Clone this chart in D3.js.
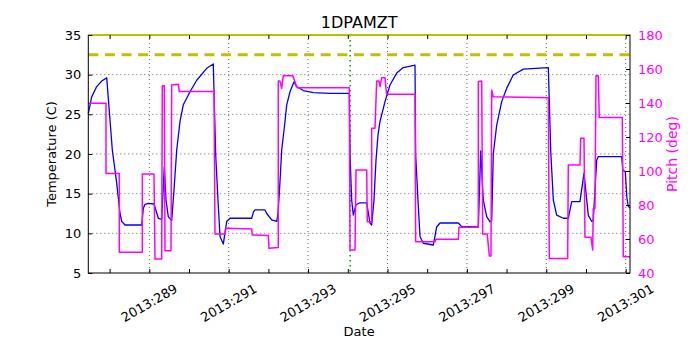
<!DOCTYPE html>
<html><head><meta charset="utf-8">
<script src="https://cdn.jsdelivr.net/npm/d3@7"></script>
<style>body{margin:0;background:#fff}text{font-family:"DejaVu Sans",sans-serif}</style>
</head><body><svg id="c" width="700" height="350"></svg>
<script>
// ---- data (day of year 2013) ----
const tempDays = [287.463,287.549,287.675,287.801,287.927,288.068,288.179,288.262,288.305,288.388,288.808,288.849,288.892,288.975,289.118,289.227,289.312,289.378,289.421,289.478,289.564,289.622,289.690,289.773,289.856,290.025,290.194,290.446,290.612,290.672,290.730,290.781,290.864,290.950,291.033,291.579,291.625,291.662,291.914,291.957,292.083,292.209,292.242,292.292,292.335,292.418,292.461,292.544,292.627,292.645,292.713,292.879,293.131,293.552,294.038,294.056,294.098,294.139,294.207,294.307,294.476,294.559,294.602,294.660,294.710,294.761,294.811,294.937,295.063,295.232,295.398,295.693,295.710,295.768,295.819,295.902,296.154,296.239,296.323,296.784,296.869,297.078,297.288,297.348,297.413,297.499,297.582,297.625,297.665,297.751,297.877,298.003,298.169,298.421,299.051,299.068,299.111,299.177,299.262,299.429,299.555,299.640,299.849,299.950,300.058,300.144,300.184,300.270,300.310,300.900,300.930,300.990,301.030,301.066,301.109];
const tempValues = [25.1,27.2,28.5,29.2,29.6,20.5,16.3,12.5,11.5,11.05,11.05,13.15,13.66,13.78,13.7,11.9,11.77,18.4,14.2,12.1,11.6,15.5,20.5,24.1,26.2,27.85,29.3,30.8,31.35,19.9,14.2,9.6,8.65,11.5,11.9,11.9,12.7,12.95,12.95,12.5,11.7,11.5,12.5,16.5,20.5,24.1,26.2,27.85,28.9,29.1,28.5,28.0,27.73,27.65,27.65,19.9,14.2,12.3,13.6,13.85,13.85,11.3,11.05,14.2,19.2,22.4,24.1,26.6,28.7,30.2,30.9,31.2,19.9,14.2,9.6,8.75,8.53,10.8,11.3,11.3,10.84,10.84,10.8,20.4,14.2,12.1,11.45,11.6,20.0,23.65,26.6,28.3,29.96,30.7,30.9,28.0,20.5,14.2,12.3,11.9,11.9,13.99,13.99,17.6,12.3,11.5,11.7,19.2,19.67,19.67,17.9,17.8,14.5,13.4,13.2];
const pitchDays = [287.463,287.909,287.909,288.244,288.244,288.824,288.824,289.118,289.143,289.312,289.327,289.378,289.395,289.546,289.564,289.730,289.756,290.630,290.655,290.907,290.925,291.579,291.594,291.998,292.015,292.249,292.249,292.292,292.335,292.375,292.612,292.670,292.713,292.733,294.038,294.056,294.181,294.207,294.476,294.491,294.602,294.602,294.685,294.728,294.786,294.811,294.854,294.937,294.962,294.980,295.693,295.710,296.197,296.214,296.784,296.801,297.288,297.288,297.373,297.398,297.514,297.565,297.607,297.625,297.665,299.051,299.076,299.539,299.555,299.849,299.867,299.950,299.975,300.126,300.169,300.184,300.227,300.252,300.310,300.335,300.915,300.940,301.109];
const pitchValues = [139.8,139.8,98.6,98.6,52.2,52.2,98.2,98.2,48.2,48.2,150.2,150.2,53.1,53.1,150.6,151,146.7,146.7,62.9,62.9,66.3,65.9,62.4,62.0,54.5,55,152.9,152.9,148.6,156.1,156.1,152.5,149.6,149,149,53.5,53.5,100.6,100.6,70.2,70.2,125.1,125.1,152.9,152.9,149.6,154.9,154.9,148.6,145.1,145.1,58.4,58.4,59.8,59.8,66.9,66.9,152.6,152.9,62.9,62.9,50,50,147.6,143.7,143.1,48.6,48.6,103.5,103.5,119.2,119.2,61,61,53.5,78,78,156.1,156.1,131.4,131.4,49.6,49.6];
const tempTicks = [5,10,15,20,25,30,35];
const pitchTicks = [40,60,80,100,120,140,160,180];
const majorDays = [289,291,293,295,297,299,301];
const minorDays = [288,289,290,291,292,293,294,295,296,297,298,299,300,301];
const dayLabels = ["2013:289","2013:291","2013:293","2013:295","2013:297","2013:299","2013:301"];
const yellowLimits = [32.5, 35];
const markerDay = [294.06];
const titleText = "1DPAMZT";

// ---- layout ----
const L=88.3, R=630, T=35, B=273;
const svg = d3.select("#c");
const x = d3.scaleLinear().domain([287.463, 301.109]).range([L,R]);
const yT = d3.scaleLinear().domain([5,35]).range([B,T]);
const yP = d3.scaleLinear().domain([40,180]).range([B,T]);

// grid
const g = svg.append("g");
g.selectAll(".hg").data(tempTicks.slice(1,-1)).enter().append("line")
  .attr("x1",L).attr("x2",R).attr("y1",d=>yT(d)).attr("y2",d=>yT(d))
  .attr("stroke","#000").attr("stroke-width",0.6).attr("stroke-dasharray","1,3");
g.selectAll(".vg").data(majorDays).enter().append("line")
  .attr("x1",d=>x(d)).attr("x2",d=>x(d)).attr("y1",T).attr("y2",B)
  .attr("stroke","#000").attr("stroke-width",0.6).attr("stroke-dasharray","1,3");

// green marker
svg.selectAll(".gm").data(markerDay).enter().append("line")
  .attr("x1",d=>x(d)).attr("x2",d=>x(d)).attr("y1",T).attr("y2",B)
  .attr("stroke","#00a000").attr("stroke-width",1.5).attr("stroke-dasharray","1.5,3.5");

// temperature line
const lineT = d3.line().x((d,i)=>x(tempDays[i])).y(d=>yT(d));
svg.append("path").attr("d",lineT(tempValues)).attr("fill","none")
  .attr("stroke","#0000ff").attr("stroke-width",1.3).attr("stroke-linejoin","round");

// yellow limits
svg.append("line").attr("x1",L).attr("x2",R).attr("y1",yT(yellowLimits[0])).attr("y2",yT(yellowLimits[0]))
  .attr("stroke","#c0c000").attr("stroke-width",3).attr("stroke-dasharray","10,6.6");

// pitch line
const lineP = d3.line().x((d,i)=>x(pitchDays[i])).y(d=>yP(d));
svg.append("path").attr("d",lineP(pitchValues)).attr("fill","none")
  .attr("stroke","#ff00ff").attr("stroke-width",1.5).attr("stroke-linejoin","round");

// frame
svg.append("rect").attr("x",L).attr("y",T).attr("width",R-L).attr("height",B-T)
  .attr("fill","none").attr("stroke","#000").attr("stroke-width",1);
svg.append("line").attr("x1",L).attr("x2",R).attr("y1",yT(yellowLimits[1])).attr("y2",yT(yellowLimits[1]))
  .attr("stroke","#c0c000").attr("stroke-width",2);

// axes (inward ticks)
const axL = d3.axisLeft(yT).tickValues(tempTicks).tickSize(-4).tickPadding(7).tickFormat(d3.format("d"));
const axR = d3.axisRight(yP).tickValues(pitchTicks).tickSize(-4).tickPadding(8).tickFormat(d3.format("d"));
const axB = d3.axisBottom(x).tickValues(minorDays).tickSize(-4).tickFormat("");
const axTop = d3.axisTop(x).tickValues(minorDays).tickSize(-4).tickFormat("");
function style(sel,color){ sel.select(".domain").remove(); sel.selectAll("line").attr("stroke","#000");
  sel.selectAll("text").attr("fill",color).style("font-size","13px").style("font-family","DejaVu Sans"); }
svg.append("g").attr("transform",`translate(${L},0)`).call(axL).call(s=>style(s,"#000"));
svg.append("g").attr("transform",`translate(${R},0)`).call(axR).call(s=>style(s,"#ff00ff"));
svg.append("g").attr("transform",`translate(0,${B})`).call(axB).call(s=>style(s,"#000"));
svg.append("g").attr("transform",`translate(0,${T})`).call(axTop).call(s=>style(s,"#000"));

// rotated date labels
svg.selectAll(".dl").data(majorDays).enter().append("text")
  .attr("transform",(d)=>`translate(${x(d)},${303}) rotate(-30)`)
  .attr("text-anchor","middle").attr("dominant-baseline","central")
  .style("font-size","13px").attr("fill","#000").text((d,i)=>dayLabels[i]);

// titles
svg.append("text").attr("x",(L+R)/2).attr("y",28).attr("text-anchor","middle")
  .style("font-size","16px").text(titleText);
svg.append("text").attr("x",(L+R)/2).attr("y",336).attr("text-anchor","middle")
  .style("font-size","13px").text("Date");
svg.append("text").attr("transform",`translate(56,${(T+B)/2}) rotate(-90)`).attr("text-anchor","middle")
  .style("font-size","13px").text("Temperature (C)");
svg.append("text").attr("transform",`translate(672,${(T+B)/2}) rotate(-90)`).attr("text-anchor","middle")
  .attr("dominant-baseline","central").attr("fill","#ff00ff")
  .style("font-size","14px").text("Pitch (deg)");
</script></body></html>
